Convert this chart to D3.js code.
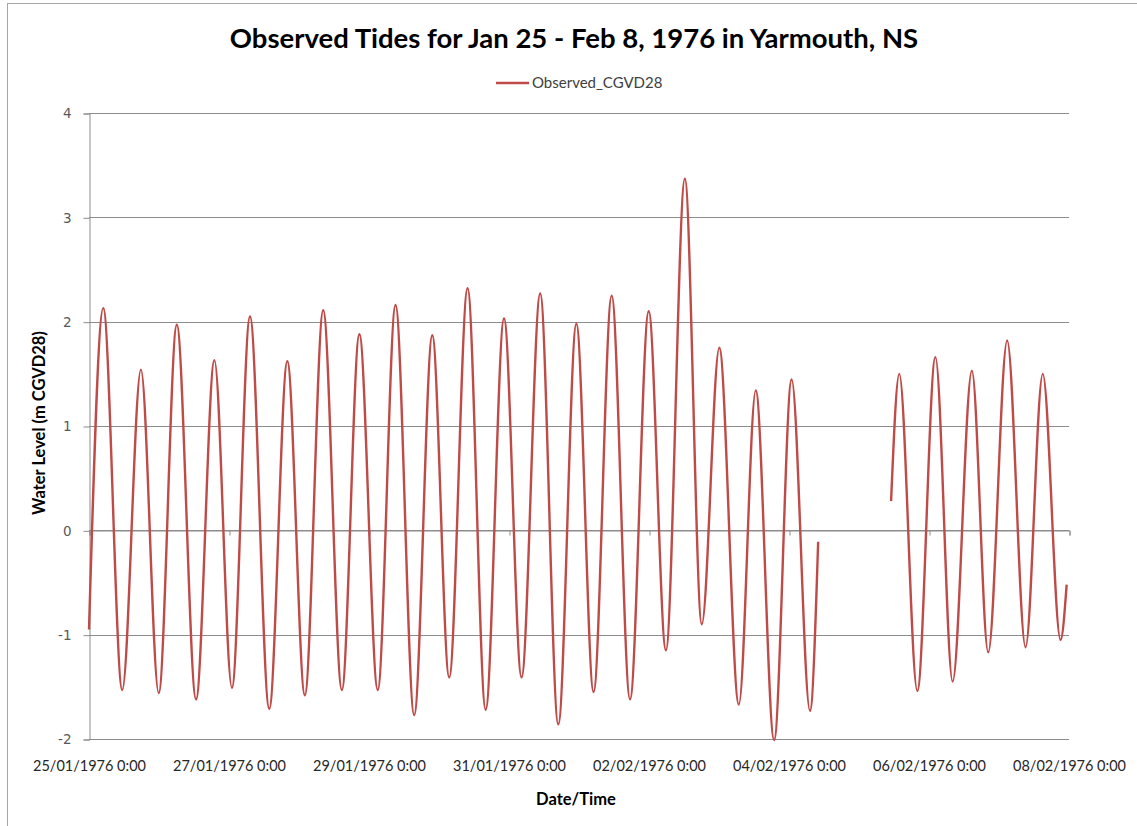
<!DOCTYPE html>
<html>
<head>
<meta charset="utf-8">
<script src="https://cdn.jsdelivr.net/npm/d3@7"></script>
<style>
  body { margin: 0; background: #fff; }
</style>
</head>
<body>
<script>
// high / low water times and levels (m CGVD28)
// null marks the stretch with no observations
var times = [
  "25/01/1976 0:00", "25/01/1976 4:54", "25/01/1976 11:24", "25/01/1976 17:48", "25/01/1976 23:54",
  "26/01/1976 6:06", "26/01/1976 12:42", "26/01/1976 19:00",
  "27/01/1976 1:00", "27/01/1976 7:12", "27/01/1976 13:48", "27/01/1976 20:00",
  "28/01/1976 2:00", "28/01/1976 8:18", "28/01/1976 14:42", "28/01/1976 20:42",
  "29/01/1976 3:00", "29/01/1976 9:06", "29/01/1976 15:30", "29/01/1976 21:42",
  "30/01/1976 3:30", "30/01/1976 9:48", "30/01/1976 16:00", "30/01/1976 22:18",
  "31/01/1976 4:18", "31/01/1976 10:42", "31/01/1976 16:54", "31/01/1976 23:06",
  "01/02/1976 5:00", "01/02/1976 11:12", "01/02/1976 17:30", "01/02/1976 23:54",
  "02/02/1976 5:48", "02/02/1976 12:18", "02/02/1976 18:06",
  "03/02/1976 0:06", "03/02/1976 6:48", "03/02/1976 12:36", "03/02/1976 18:54",
  "04/02/1976 0:54", "04/02/1976 7:12", "04/02/1976 10:00",
  "04/02/1976 22:00",
  "05/02/1976 11:00", "05/02/1976 13:48", "05/02/1976 20:00",
  "06/02/1976 2:12", "06/02/1976 8:06", "06/02/1976 14:42", "06/02/1976 20:18",
  "07/02/1976 2:48", "07/02/1976 9:06", "07/02/1976 15:00", "07/02/1976 21:06", "07/02/1976 23:12"
];

var levels = [
  -0.95, 2.13, -1.53, 1.54, -1.56,
  1.97, -1.62, 1.63,
  -1.51, 2.05, -1.71, 1.62,
  -1.58, 2.11, -1.53, 1.88,
  -1.53, 2.16, -1.77, 1.87,
  -1.41, 2.32, -1.72, 2.03,
  -1.41, 2.27, -1.86, 1.98,
  -1.55, 2.25, -1.62, 2.10,
  -1.15, 3.37, -0.90,
  1.75, -1.67, 1.34, -2.01,
  1.445, -1.73, -0.11,
  null,
  0.28, 1.50, -1.54,
  1.66, -1.45, 1.53, -1.17,
  1.82, -1.12, 1.50, -1.05, -0.52
];

var xTicks = [
  "25/01/1976 0:00", "27/01/1976 0:00", "29/01/1976 0:00", "31/01/1976 0:00",
  "02/02/1976 0:00", "04/02/1976 0:00", "06/02/1976 0:00", "08/02/1976 0:00"
];
var yTicks = [-2, -1, 0, 1, 2, 3, 4];

var seriesName = "Observed_CGVD28";
var chartTitle = "Observed Tides for Jan 25 - Feb 8, 1976 in Yarmouth, NS";

var width = 1137,
    height = 826;

// plot area edges
var plotLeft = 89, plotRight = 1069, plotTop = 113, plotBottom = 739;

var parseTime = d3.timeParse("%d/%m/%Y %H:%M");
var formatTime = d3.timeFormat("%d/%m/%Y %-H:%M");

var data = times.map(function(t, i) {
  return { date: parseTime(t), level: levels[i] };
});

var svg = d3.select("body")
  .append("svg")
  .attr("width", width)
  .attr("height", height);

// chart border
svg.append("rect")
  .attr("x", 7.5)
  .attr("y", 3.5)
  .attr("width", 1140)
  .attr("height", 830)
  .attr("fill", "none")
  .attr("stroke", "#a6a6a6");

var x = d3.scaleTime()
  .domain([parseTime(xTicks[0]), parseTime(xTicks[xTicks.length - 1])])
  .range([plotLeft, plotRight]);

var y = d3.scaleLinear()
  .domain([-2, 4])
  .range([plotBottom, plotTop]);

// horizontal gridlines
svg.append("g")
  .selectAll("line")
  .data(yTicks)
  .enter()
  .append("line")
  .attr("x1", plotLeft)
  .attr("x2", plotRight)
  .attr("y1", function(d) { return Math.round(y(d)) + 0.5; })
  .attr("y2", function(d) { return Math.round(y(d)) + 0.5; })
  .attr("stroke", "#8c8c8c");

// value axis
var yAxis = svg.append("g")
  .attr("transform", "translate(" + (plotLeft + 0.5) + ",0.5)")
  .call(d3.axisLeft(y)
    .tickValues(yTicks)
    .tickFormat(function(d) { return String(d); })
    .tickSizeOuter(0)
    .tickSize(6)
    .tickPadding(12));
yAxis.select(".domain").attr("stroke", "#8c8c8c");
yAxis.selectAll(".tick line").attr("stroke", "#8c8c8c");
yAxis.selectAll("text")
  .attr("fill", "#595959")
  .style("font-family", "DejaVu Sans")
  .style("font-size", "13.5px");

// category axis crosses at zero: small ticks only
var zeroAxis = svg.append("g")
  .attr("transform", "translate(0.5," + (Math.round(y(0)) + 0.5) + ")")
  .call(d3.axisBottom(x).tickValues(xTicks.map(parseTime)).tickSizeOuter(0).tickSize(5).tickFormat(""));
zeroAxis.select(".domain").attr("stroke", "#8c8c8c");
zeroAxis.selectAll(".tick line").attr("stroke", "#8c8c8c");

// date labels sit below the plot
var xAxis = svg.append("g")
  .attr("transform", "translate(0," + plotBottom + ")")
  .call(d3.axisBottom(x).tickValues(xTicks.map(parseTime)).tickSize(0).tickPadding(22).tickFormat(formatTime));
xAxis.select(".domain").remove();
xAxis.selectAll("text")
  .attr("fill", "#262626")
  .style("font-family", "Lato")
  .style("font-size", "14.5px");

// the tide line
var line = d3.line()
  .defined(function(d) { return d.level != null; })
  .x(function(d) { return x(d.date); })
  .y(function(d) { return y(d.level); })
  .curve(d3.curveMonotoneX);

svg.append("path")
  .datum(data)
  .attr("d", line)
  .attr("fill", "none")
  .attr("stroke", "#be4b48")
  .attr("stroke-width", 2.4);

// title
svg.append("text")
  .attr("x", 574)
  .attr("y", 48)
  .attr("text-anchor", "middle")
  .style("font-family", "Lato")
  .style("font-weight", "bold")
  .style("font-size", "27.5px")
  .attr("fill", "#000")
  .text(chartTitle);

// legend
var legend = svg.append("g")
  .attr("transform", "translate(496, 83)");
legend.append("line")
  .attr("x1", 0)
  .attr("x2", 33)
  .attr("stroke", "#be4b48")
  .attr("stroke-width", 2.4);
legend.append("text")
  .attr("x", 36)
  .attr("dy", "0.35em")
  .attr("fill", "#404040")
  .style("font-family", "Lato")
  .style("font-size", "15px")
  .text(seriesName);

// axis titles
svg.append("text")
  .attr("transform", "translate(45, 423) rotate(-90)")
  .attr("text-anchor", "middle")
  .style("font-family", "Lato")
  .style("font-weight", "bold")
  .style("font-size", "16.5px")
  .attr("fill", "#000")
  .text("Water Level (m CGVD28)");

svg.append("text")
  .attr("x", 576)
  .attr("y", 805)
  .attr("text-anchor", "middle")
  .style("font-family", "Lato")
  .style("font-weight", "bold")
  .style("font-size", "16.5px")
  .attr("fill", "#000")
  .text("Date/Time");
</script>
</body>
</html>
